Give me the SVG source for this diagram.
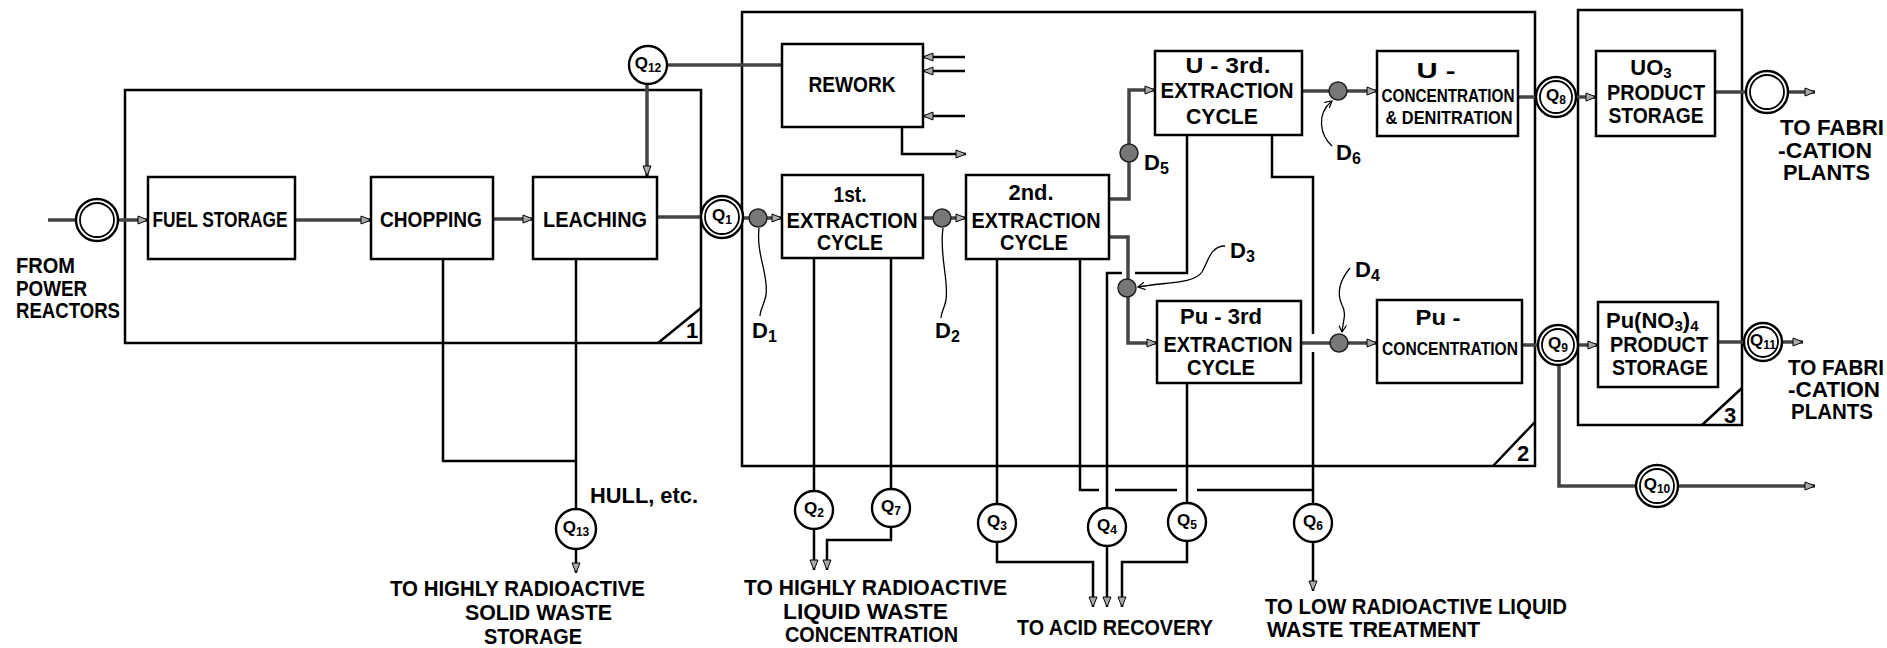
<svg xmlns="http://www.w3.org/2000/svg" width="1887" height="648" viewBox="0 0 1887 648">
<style>
.box{fill:#fff;stroke:#000;stroke-width:2.5}
.frame{fill:none;stroke:#000;stroke-width:2.5}
.ln{fill:none;stroke:#000;stroke-width:2.5}
.st{fill:none;stroke:#444;stroke-width:3.5}
.thin{fill:none;stroke:#000;stroke-width:1.3}
.t{font-family:"Liberation Sans",Arial,sans-serif;font-weight:bold;fill:#000;font-size:22px}
.s{font-size:19px}
.ql{font-family:"Liberation Sans",Arial,sans-serif;font-weight:bold;fill:#000;font-size:17px}
.sub{font-size:12px}
.qc{fill:#fff;stroke:#000;stroke-width:2.4}
.qi{fill:none;stroke:#000;stroke-width:1.8}
.dot{fill:#777;stroke:#222;stroke-width:1.5}
</style>
<defs>
<marker id="ah" markerWidth="12" markerHeight="10" refX="11" refY="5" orient="auto" markerUnits="userSpaceOnUse">
<path d="M1,1 L11,5 L1,9 Z" fill="#aaa" stroke="#000" stroke-width="1"/>
</marker>
<marker id="sa" markerWidth="8" markerHeight="8" refX="7" refY="4" orient="auto" markerUnits="userSpaceOnUse">
<path d="M0,0 L7,4 L0,8" fill="none" stroke="#000" stroke-width="1.2"/>
</marker>
</defs>
<rect width="1887" height="648" fill="#fff"/>

<g id="frame1">
<path class="frame" d="M125,90 H701 V343 H125 Z"/>
<path class="ln" d="M658,343 L701,308"/>
<text class="t" x="686" y="338" font-size="20">1</text>
</g>
<g id="frame2">
<path class="frame" d="M742,12 H1535 V466 H742 Z"/>
<path class="ln" d="M1493,466 L1535,422"/>
<text class="t" x="1517" y="461">2</text>
</g>
<g id="frame3">
<path class="frame" d="M1578,10 H1742 V425 H1578 Z"/>
<path class="ln" d="M1702,425 L1742,388"/>
<text class="t" x="1724" y="423">3</text>
</g>

<g id="connectors">
<path class="st" d="M48,220 H76"/>
<path class="st" d="M118,220 H148" marker-end="url(#ah)"/>
<path class="st" d="M295,220 H371" marker-end="url(#ah)"/>
<path class="st" d="M493,219 H533" marker-end="url(#ah)"/>
<path class="st" d="M657,217 H701"/>
<path class="st" d="M743,218 H782" marker-end="url(#ah)"/>
<path class="st" d="M923,218 H966" marker-end="url(#ah)"/>
<path class="st" d="M667,65 H782"/>
<path class="st" d="M647,84 V176" marker-end="url(#ah)"/>
<path class="ln" d="M965,57 H923" marker-end="url(#ah)"/>
<path class="ln" d="M965,71 H923" marker-end="url(#ah)"/>
<path class="ln" d="M965,116 H923" marker-end="url(#ah)"/>
<path class="ln" d="M902,127 V154 H966" marker-end="url(#ah)"/>
<path class="st" d="M1109,199 H1129 V90 H1155" marker-end="url(#ah)"/>
<path class="st" d="M1109,237 H1128 V343 H1157" marker-end="url(#ah)"/>
<path class="st" d="M1302,91 H1377" marker-end="url(#ah)"/>
<path class="st" d="M1301,343 H1377" marker-end="url(#ah)"/>
<path class="st" d="M1518,97 H1535"/>
<path class="st" d="M1576,97 H1596" marker-end="url(#ah)"/>
<path class="st" d="M1715,92 H1747"/>
<path class="st" d="M1788,92 H1815" marker-end="url(#ah)"/>
<path class="st" d="M1522,345 H1537"/>
<path class="st" d="M1578,345 H1598" marker-end="url(#ah)"/>
<path class="st" d="M1718,342 H1744"/>
<path class="st" d="M1782,342 H1803" marker-end="url(#ah)"/>
<path class="st" d="M1559,366 V486 H1636"/>
<path class="st" d="M1678,486 H1815" marker-end="url(#ah)"/>
<path class="ln" d="M443,259 V461 H576"/>
<path class="ln" d="M576,259 V509"/>
<path class="ln" d="M576,549 V573" marker-end="url(#ah)"/>
<path class="ln" d="M814,258 V491"/>
<path class="ln" d="M814,529 V570" marker-end="url(#ah)"/>
<path class="ln" d="M891,258 V489"/>
<path class="ln" d="M891,527 V540 H827 V570" marker-end="url(#ah)"/>
<path class="ln" d="M997,259 V504"/>
<path class="ln" d="M997,542 V562 H1093 V607" marker-end="url(#ah)"/>
<path class="ln" d="M1187,135 V273 H1135 M1122,273 H1107 V508"/>
<path class="ln" d="M1107,546 V607" marker-end="url(#ah)"/>
<path class="ln" d="M1187,383 V503"/>
<path class="ln" d="M1187,541 V562 H1122 V607" marker-end="url(#ah)"/>
<path class="ln" d="M1080,259 V490 H1099 M1115,490 H1177 M1197,490 H1313"/>
<path class="ln" d="M1272,135 V177 H1313 V334 M1313,352 V504"/>
<path class="ln" d="M1313,542 V591" marker-end="url(#ah)"/>
<path class="thin" d="M759,228 C756,255 769,275 766,295 C764,305 760,310 760,316"/>
<path class="thin" d="M943,228 C939,255 949,280 946,300 C944,310 941,312 941,318"/>
<path class="thin" d="M1225,246 C1210,246 1208,262 1202,272 C1194,284 1165,282 1138,287" marker-end="url(#sa)"/>
<path class="thin" d="M1350,268 C1340,280 1336,292 1342,305 C1347,314 1343,320 1342,332" marker-end="url(#sa)"/>
<path class="thin" d="M1332,146 C1320,135 1316,114 1332,101" marker-end="url(#sa)"/>
</g>

<g id="input-circle"><circle class="qc" cx="97" cy="220" r="21"/><circle class="qi" cx="97" cy="220" r="17"/></g>
<g id="output-circle"><circle class="qc" cx="1767" cy="92" r="21"/><circle class="qi" cx="1767" cy="92" r="17"/></g>

<g id="fuel-storage"><rect class="box" x="148" y="177" width="147" height="82"/><text class="t" x="220" y="227" text-anchor="middle" textLength="135" lengthAdjust="spacingAndGlyphs">FUEL STORAGE</text></g>
<g id="chopping"><rect class="box" x="371" y="177" width="122" height="82"/><text class="t" x="431" y="227" text-anchor="middle" textLength="102" lengthAdjust="spacingAndGlyphs">CHOPPING</text></g>
<g id="leaching"><rect class="box" x="533" y="177" width="124" height="82"/><text class="t" x="595" y="227" text-anchor="middle" textLength="104" lengthAdjust="spacingAndGlyphs">LEACHING</text></g>
<g id="rework"><rect class="box" x="782" y="44" width="141" height="83"/><text class="t" x="852" y="92" text-anchor="middle" textLength="87" lengthAdjust="spacingAndGlyphs">REWORK</text></g>
<g id="first-extraction"><rect class="box" x="782" y="175" width="141" height="83"/>
<text class="t" x="850" y="202" text-anchor="middle" textLength="33" lengthAdjust="spacingAndGlyphs">1st.</text>
<text class="t" x="852" y="228" text-anchor="middle" textLength="131" lengthAdjust="spacingAndGlyphs">EXTRACTION</text>
<text class="t" x="850" y="250" text-anchor="middle" textLength="66" lengthAdjust="spacingAndGlyphs">CYCLE</text></g>
<g id="second-extraction"><rect class="box" x="966" y="175" width="143" height="84"/>
<text class="t" x="1031" y="200" text-anchor="middle" textLength="45" lengthAdjust="spacingAndGlyphs">2nd.</text>
<text class="t" x="1036" y="228" text-anchor="middle" textLength="129" lengthAdjust="spacingAndGlyphs">EXTRACTION</text>
<text class="t" x="1034" y="250" text-anchor="middle" textLength="68" lengthAdjust="spacingAndGlyphs">CYCLE</text></g>
<g id="u-third-extraction"><rect class="box" x="1155" y="51" width="147" height="84"/>
<text class="t" x="1228" y="73" text-anchor="middle" textLength="85" lengthAdjust="spacingAndGlyphs">U - 3rd.</text>
<text class="t" x="1227" y="98" text-anchor="middle" textLength="133" lengthAdjust="spacingAndGlyphs">EXTRACTION</text>
<text class="t" x="1222" y="124" text-anchor="middle" textLength="72" lengthAdjust="spacingAndGlyphs">CYCLE</text></g>
<g id="pu-third-extraction"><rect class="box" x="1157" y="301" width="144" height="82"/>
<text class="t" x="1221" y="324" text-anchor="middle" textLength="82" lengthAdjust="spacingAndGlyphs">Pu - 3rd</text>
<text class="t" x="1228" y="352" text-anchor="middle" textLength="129" lengthAdjust="spacingAndGlyphs">EXTRACTION</text>
<text class="t" x="1221" y="375" text-anchor="middle" textLength="68" lengthAdjust="spacingAndGlyphs">CYCLE</text></g>
<g id="u-concentration"><rect class="box" x="1377" y="51" width="141" height="85"/>
<text class="t" x="1436" y="78" text-anchor="middle" textLength="39" lengthAdjust="spacingAndGlyphs">U -</text>
<text class="t s" x="1448" y="102" text-anchor="middle" textLength="133" lengthAdjust="spacingAndGlyphs">CONCENTRATION</text>
<text class="t s" x="1449" y="124" text-anchor="middle" textLength="127" lengthAdjust="spacingAndGlyphs">&amp; DENITRATION</text></g>
<g id="pu-concentration"><rect class="box" x="1377" y="300" width="145" height="83"/>
<text class="t" x="1438" y="325" text-anchor="middle" textLength="45" lengthAdjust="spacingAndGlyphs">Pu -</text>
<text class="t s" x="1450" y="355" text-anchor="middle" textLength="136" lengthAdjust="spacingAndGlyphs">CONCENTRATION</text></g>
<g id="uo3-storage"><rect class="box" x="1596" y="51" width="119" height="85"/>
<text class="t" x="1651" y="75" text-anchor="middle">UO<tspan font-size="15" dy="3">3</tspan></text>
<text class="t" x="1656" y="100" text-anchor="middle" textLength="98" lengthAdjust="spacingAndGlyphs">PRODUCT</text>
<text class="t" x="1656" y="123" text-anchor="middle" textLength="95" lengthAdjust="spacingAndGlyphs">STORAGE</text></g>
<g id="pu-nitrate-storage"><rect class="box" x="1598" y="302" width="120" height="85"/>
<text class="t" x="1606" y="328">Pu(NO<tspan font-size="15" dy="3">3</tspan><tspan dy="-3">)</tspan><tspan font-size="15" dy="3">4</tspan></text>
<text class="t" x="1659" y="352" text-anchor="middle" textLength="98" lengthAdjust="spacingAndGlyphs">PRODUCT</text>
<text class="t" x="1660" y="375" text-anchor="middle" textLength="96" lengthAdjust="spacingAndGlyphs">STORAGE</text></g>

<g id="D1"><circle class="dot" cx="758" cy="218" r="9"/><text class="t" x="752" y="338" font-size="23">D<tspan font-size="16" dy="4">1</tspan></text></g>
<g id="D2"><circle class="dot" cx="942" cy="218" r="9"/><text class="t" x="935" y="338" font-size="23">D<tspan font-size="16" dy="4">2</tspan></text></g>
<g id="D3"><circle class="dot" cx="1127" cy="288" r="9"/><text class="t" x="1230" y="258" font-size="23">D<tspan font-size="16" dy="4">3</tspan></text></g>
<g id="D4"><circle class="dot" cx="1339" cy="343" r="9"/><text class="t" x="1355" y="277" font-size="23">D<tspan font-size="16" dy="4">4</tspan></text></g>
<g id="D5"><circle class="dot" cx="1129" cy="153" r="9"/><text class="t" x="1144" y="170" font-size="23">D<tspan font-size="16" dy="4">5</tspan></text></g>
<g id="D6"><circle class="dot" cx="1338" cy="91" r="9"/><text class="t" x="1336" y="160" font-size="23">D<tspan font-size="16" dy="4">6</tspan></text></g>

<g id="Q1"><circle class="qc" cx="722" cy="217" r="21"/><circle class="qi" cx="722" cy="217" r="17"/><text class="ql" x="722" y="221" text-anchor="middle">Q<tspan class="sub" dy="3">1</tspan></text></g>
<g id="Q2"><circle class="qc" cx="814" cy="510" r="19"/><text class="ql" x="814" y="514" text-anchor="middle">Q<tspan class="sub" dy="3">2</tspan></text></g>
<g id="Q3"><circle class="qc" cx="997" cy="523" r="19"/><text class="ql" x="997" y="527" text-anchor="middle">Q<tspan class="sub" dy="3">3</tspan></text></g>
<g id="Q4"><circle class="qc" cx="1107" cy="527" r="19"/><text class="ql" x="1107" y="531" text-anchor="middle">Q<tspan class="sub" dy="3">4</tspan></text></g>
<g id="Q5"><circle class="qc" cx="1187" cy="522" r="19"/><text class="ql" x="1187" y="526" text-anchor="middle">Q<tspan class="sub" dy="3">5</tspan></text></g>
<g id="Q6"><circle class="qc" cx="1313" cy="523" r="19"/><text class="ql" x="1313" y="527" text-anchor="middle">Q<tspan class="sub" dy="3">6</tspan></text></g>
<g id="Q7"><circle class="qc" cx="891" cy="508" r="19"/><text class="ql" x="891" y="512" text-anchor="middle">Q<tspan class="sub" dy="3">7</tspan></text></g>
<g id="Q8"><circle class="qc" cx="1556" cy="97" r="20"/><circle class="qi" cx="1556" cy="97" r="16"/><text class="ql" x="1556" y="101" text-anchor="middle">Q<tspan class="sub" dy="3">8</tspan></text></g>
<g id="Q9"><circle class="qc" cx="1558" cy="345" r="20"/><circle class="qi" cx="1558" cy="345" r="16"/><text class="ql" x="1558" y="349" text-anchor="middle">Q<tspan class="sub" dy="3">9</tspan></text></g>
<g id="Q10"><circle class="qc" cx="1657" cy="486" r="21"/><circle class="qi" cx="1657" cy="486" r="17"/><text class="ql" x="1657" y="490" text-anchor="middle">Q<tspan class="sub" dy="3">10</tspan></text></g>
<g id="Q11"><circle class="qc" cx="1763" cy="342" r="19"/><circle class="qi" cx="1763" cy="342" r="15"/><text class="ql" x="1763" y="346" text-anchor="middle">Q<tspan class="sub" dy="3">11</tspan></text></g>
<g id="Q12"><circle class="qc" cx="648" cy="65" r="19"/><text class="ql" x="648" y="69" text-anchor="middle">Q<tspan class="sub" dy="3">12</tspan></text></g>
<g id="Q13"><circle class="qc" cx="576" cy="529" r="20"/><text class="ql" x="576" y="533" text-anchor="middle">Q<tspan class="sub" dy="3">13</tspan></text></g>

<g id="labels">
<text class="t" x="16" y="273" textLength="59" lengthAdjust="spacingAndGlyphs">FROM</text>
<text class="t" x="16" y="296" textLength="71" lengthAdjust="spacingAndGlyphs">POWER</text>
<text class="t" x="16" y="318" textLength="104" lengthAdjust="spacingAndGlyphs">REACTORS</text>
<text class="t" x="590" y="503" textLength="108" lengthAdjust="spacingAndGlyphs">HULL, etc.</text>
<text class="t" x="390" y="596" textLength="255" lengthAdjust="spacingAndGlyphs">TO HIGHLY RADIOACTIVE</text>
<text class="t" x="465" y="620" textLength="147" lengthAdjust="spacingAndGlyphs">SOLID WASTE</text>
<text class="t" x="484" y="644" textLength="98" lengthAdjust="spacingAndGlyphs">STORAGE</text>
<text class="t" x="744" y="595" textLength="263" lengthAdjust="spacingAndGlyphs">TO HIGHLY RADIOACTIVE</text>
<text class="t" x="783" y="619" textLength="165" lengthAdjust="spacingAndGlyphs">LIQUID WASTE</text>
<text class="t" x="785" y="642" textLength="173" lengthAdjust="spacingAndGlyphs">CONCENTRATION</text>
<text class="t" x="1017" y="635" textLength="196" lengthAdjust="spacingAndGlyphs">TO ACID RECOVERY</text>
<text class="t" x="1265" y="614" textLength="302" lengthAdjust="spacingAndGlyphs">TO LOW RADIOACTIVE LIQUID</text>
<text class="t" x="1267" y="637" textLength="213" lengthAdjust="spacingAndGlyphs">WASTE TREATMENT</text>
<text class="t" x="1780" y="135" textLength="104" lengthAdjust="spacingAndGlyphs">TO FABRI</text>
<text class="t" x="1778" y="158" textLength="94" lengthAdjust="spacingAndGlyphs">-CATION</text>
<text class="t" x="1783" y="180" textLength="87" lengthAdjust="spacingAndGlyphs">PLANTS</text>
<text class="t" x="1788" y="375" textLength="96" lengthAdjust="spacingAndGlyphs">TO FABRI</text>
<text class="t" x="1788" y="397" textLength="92" lengthAdjust="spacingAndGlyphs">-CATION</text>
<text class="t" x="1791" y="419" textLength="82" lengthAdjust="spacingAndGlyphs">PLANTS</text>
</g>
</svg>
